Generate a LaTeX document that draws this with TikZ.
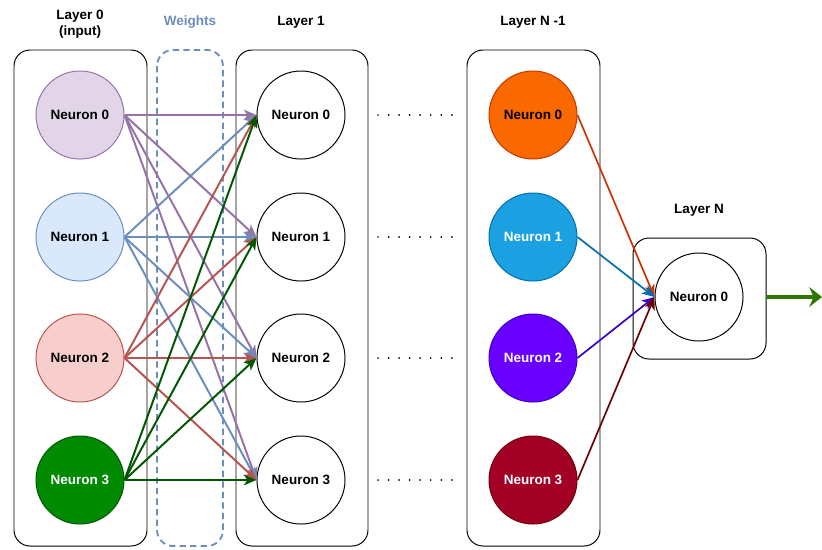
\documentclass[tikz,border=0pt]{standalone}
\usepackage{fontspec}
\setmainfont{Liberation Sans}
\usepackage{xcolor}
\usepackage{tikz}
\usetikzlibrary{arrows.meta, positioning}
\definecolor{LilacFill}{HTML}{E1D5E7}
\definecolor{LilacLine}{HTML}{9673A6}
\definecolor{SkyFill}{HTML}{DAE8FC}
\definecolor{SkyLine}{HTML}{6C8EBF}
\definecolor{RoseFill}{HTML}{F8CECC}
\definecolor{RoseLine}{HTML}{B85450}
\definecolor{LeafFill}{HTML}{008A00}
\definecolor{LeafLine}{HTML}{005700}
\definecolor{OrangeFill}{HTML}{FA6800}
\definecolor{OrangeLine}{HTML}{C73500}
\definecolor{CyanFill}{HTML}{1BA1E2}
\definecolor{CyanLine}{HTML}{006EAF}
\definecolor{VioletFill}{HTML}{6A00FF}
\definecolor{VioletLine}{HTML}{3700CC}
\definecolor{CrimsonFill}{HTML}{A20025}
\definecolor{CrimsonLine}{HTML}{6F0000}
\definecolor{OutGreen}{HTML}{2D7600}

\begin{document}
\begin{tikzpicture}[x=0.025cm, y=-0.025cm,
  neuron/.style={circle, draw, fill=white, line width=0.7pt, minimum size=2.2cm,
    inner sep=0pt, font=\fontsize{9.6}{11.5}\selectfont\bfseries},
  layer/.style={draw, rounded corners=0.4cm, line width=0.7pt},
  title/.style={font=\fontsize{9.6}{11.5}\selectfont\bfseries, align=center},
  wire/.style={line width=1.4pt, -{Stealth[length=9pt, width=7.5pt, inset=2.5pt]}},
  dots/.style={line width=1.4pt, line cap=round, dash pattern=on 0pt off 7.5pt}
]
\useasboundingbox (0,0) rectangle (822,549);

% layer frames
\draw[layer] (14,50) rectangle (147,546);
\draw[SkyLine, line width=1.3pt, dash pattern=on 4.5pt off 3pt, rounded corners=0.4cm]
  (157,50) rectangle (223,546);
\draw[layer] (236,50) rectangle (368,546);
\draw[layer] (467,50) rectangle (600,546);
\draw[layer] (633,238) rectangle (766,359);

% titles
\node[title] (t0) at (80,24) {Layer 0\\(input)};
\node[title, text=SkyLine] (tw) at (190,22) {Weights};
\node[title] (t1) at (301,22) {Layer 1};
\node[title] (tn1) at (533,22) {Layer N -1};
\node[title] (tn) at (699,210) {Layer N};

% layer 0
\node[neuron, fill=LilacFill, draw=LilacLine] (a0) at (80,115) {Neuron 0};
\node[neuron, fill=SkyFill, draw=SkyLine] (a1) at (80,237) {Neuron 1};
\node[neuron, fill=RoseFill, draw=RoseLine] (a2) at (80,358) {Neuron 2};
\node[neuron, fill=LeafFill, draw=LeafLine, text=white] (a3) at (80,480) {Neuron 3};

% layer 1
\node[neuron] (b0) at (301,115) {Neuron 0};
\node[neuron] (b1) at (301,237) {Neuron 1};
\node[neuron] (b2) at (301,358) {Neuron 2};
\node[neuron] (b3) at (301,480) {Neuron 3};

% layer N-1
\node[neuron, fill=OrangeFill, draw=OrangeLine] (c0) at (533,115) {Neuron 0};
\node[neuron, fill=CyanFill, draw=CyanLine, text=white] (c1) at (533,237) {Neuron 1};
\node[neuron, fill=VioletFill, draw=VioletLine, text=white] (c2) at (533,358) {Neuron 2};
\node[neuron, fill=CrimsonFill, draw=CrimsonLine, text=white] (c3) at (533,480) {Neuron 3};

% layer N
\node[neuron] (d0) at (699,297) {Neuron 0};
\coordinate (outA) at (766,297);
\coordinate (outB) at (822,297);

% skipped layers
\draw[dots] (378,115) -- (452,115);
\draw[dots] (378,237) -- (452,237);
\draw[dots] (378,358) -- (452,358);
\draw[dots] (378,480) -- (452,480);

% weights
\foreach \j in {0,...,3} \draw[wire, LilacLine] (a0.east) -- (b\j.west);
\foreach \j in {0,...,3} \draw[wire, SkyLine] (a1.east) -- (b\j.west);
\foreach \j in {0,...,3} \draw[wire, RoseLine] (a2.east) -- (b\j.west);
\foreach \j in {0,...,3} \draw[wire, LeafLine] (a3.east) -- (b\j.west);

\draw[wire, line width=1.2pt, OrangeLine] (c0.east) -- (d0.west);
\draw[wire, line width=1.2pt, CyanLine] (c1.east) -- (d0.west);
\draw[wire, line width=1.2pt, VioletLine] (c2.east) -- (d0.west);
\draw[wire, line width=1.2pt, CrimsonLine] (c3.east) -- (d0.west);

\draw[OutGreen, line width=2.8pt, -{Stealth[length=9pt, width=14pt, inset=3pt]}] (outA) -- (outB);
\end{tikzpicture}
\end{document}
